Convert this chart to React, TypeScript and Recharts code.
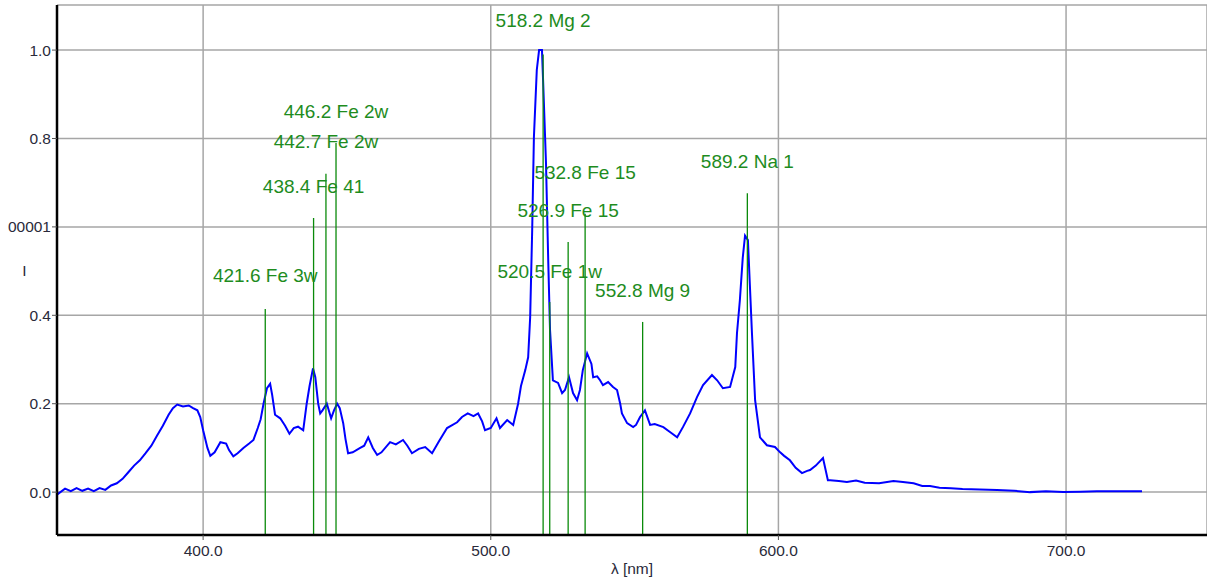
import React from "react";
import {
  ComposedChart,
  Line,
  Scatter,
  XAxis,
  YAxis,
  CartesianGrid,
  ReferenceLine,
} from "recharts";

// Spectrum (wavelength in nm, normalised intensity)
const wavelengths = [
  349.3, 352, 354, 356, 358, 360, 362, 364, 366, 368, 370, 372, 374, 376, 378, 380, 382, 384, 386, 388,
  389.5, 391, 393, 395, 396.5, 398, 399, 400, 401.5, 402.5, 404, 406, 408, 409, 410.5, 412, 414, 416,
  417.5, 419, 420, 421, 422.2, 423.3, 424, 425, 426.8, 428.5, 430, 431.5, 433, 434.8, 436, 437, 438.2,
  439, 440, 440.7, 441.5, 443, 444.5, 445.5, 446.6, 447.5, 448.7, 449.5, 450.4, 452, 454.6, 456, 457.4,
  459, 460.5, 462, 465, 467, 469.5, 471, 472.6, 475, 477.2, 479.6, 482, 484.8, 488.3, 490, 492, 494,
  495.6, 497, 498, 500, 502, 503.2, 505.7, 507.8, 509.5, 510.5, 512, 513, 513.7, 514.4, 515, 516, 516.8,
  517.8, 518.2, 519.2, 520, 520.6, 521.6, 523.4, 524.8, 525.8, 527.2, 528.6, 530, 531, 532, 533.5, 535,
  535.6, 537, 538, 539, 540.8, 542.5, 543.9, 545, 545.6, 547.4, 549.5, 550.5, 551.9, 553.6, 555.4, 557,
  560, 562.3, 564.8, 566.8, 569.3, 571.7, 573.8, 576.9, 578.7, 580.7, 583.2, 585, 585.6, 586.6, 587.6,
  588.4, 589.4, 590, 590.8, 591.9, 593.6, 596, 598.8, 600.6, 602, 604, 606, 608.2, 610, 611, 613, 615.5,
  617.2, 618, 621, 623.8, 627, 630, 635, 640, 643.3, 647, 650, 652.7, 656, 660, 664, 670, 676, 682,
  687.5, 693, 699, 705, 710.7, 718, 726.4,
];
const intensities = [
  -0.005, 0.008, 0.002, 0.009, 0.003, 0.008, 0.002, 0.009, 0.005, 0.015, 0.02, 0.03, 0.045, 0.06, 0.072,
  0.088, 0.105, 0.128, 0.15, 0.175, 0.19, 0.198, 0.194, 0.196, 0.19, 0.185, 0.17, 0.14, 0.1, 0.082, 0.09,
  0.113, 0.11, 0.095, 0.081, 0.088, 0.1, 0.11, 0.118, 0.145, 0.165, 0.2, 0.235, 0.245, 0.22, 0.175, 0.167,
  0.15, 0.132, 0.145, 0.148, 0.14, 0.2, 0.24, 0.28, 0.26, 0.2, 0.178, 0.185, 0.2, 0.167, 0.185, 0.2, 0.19,
  0.156, 0.12, 0.088, 0.09, 0.1, 0.105, 0.124, 0.1, 0.084, 0.09, 0.113, 0.108, 0.118, 0.105, 0.088, 0.098,
  0.102, 0.088, 0.115, 0.145, 0.158, 0.17, 0.178, 0.172, 0.178, 0.16, 0.14, 0.145, 0.167, 0.145, 0.163,
  0.152, 0.2, 0.24, 0.276, 0.305, 0.396, 0.593, 0.803, 0.955, 1.0, 1.0, 0.93, 0.744, 0.518, 0.367, 0.253,
  0.247, 0.224, 0.231, 0.26, 0.224, 0.208, 0.231, 0.276, 0.314, 0.29, 0.26, 0.262, 0.253, 0.242, 0.249,
  0.238, 0.231, 0.2, 0.178, 0.156, 0.147, 0.152, 0.17, 0.185, 0.152, 0.154, 0.147, 0.136, 0.124, 0.147,
  0.178, 0.215, 0.242, 0.265, 0.253, 0.235, 0.238, 0.283, 0.36, 0.434, 0.53, 0.58, 0.57, 0.48, 0.36, 0.208,
  0.124, 0.106, 0.102, 0.09, 0.082, 0.072, 0.055, 0.043, 0.048, 0.05, 0.06, 0.077, 0.027, 0.027, 0.025,
  0.023, 0.026, 0.021, 0.02, 0.025, 0.023, 0.02, 0.014, 0.014, 0.01, 0.009, 0.007, 0.006, 0.005, 0.003,
  0.0, 0.002, 0.0, 0.001, 0.002, 0.002, 0.002,
];

// Identified spectral lines
const lineWavelengths = [421.6, 438.4, 442.7, 446.2, 518.2, 520.5, 526.9, 532.8, 552.8, 589.2];
const lineHeights = [0.414, 0.62, 0.72, 0.79, 0.99, 0.43, 0.566, 0.63, 0.385, 0.676];
const lineLabels = [
  "421.6 Fe 3w",
  "438.4 Fe 41",
  "442.7 Fe 2w",
  "446.2 Fe 2w",
  "518.2 Mg 2",
  "520.5 Fe 1w",
  "526.9 Fe 15",
  "532.8 Fe 15",
  "552.8 Mg 9",
  "589.2 Na 1",
];
const labelHeights = [0.489, 0.692, 0.794, 0.862, 1.066, 0.5, 0.638, 0.722, 0.457, 0.749];

// Axes
const xDomain = [349.2, 749];
const yDomain = [-0.097, 1.102];
const xTicks = [400, 500, 600, 700];
const yTicks = [0, 0.2, 0.4, 0.6, 0.8, 1.0];
const yTickLabels = ["0.0", "0.2", "0.4", "00001", "0.8", "1.0"];

const spectrum = wavelengths.map((nm, i) => ({ nm, i: intensities[i] }));
const labelData = lineWavelengths.map((nm, k) => ({ nm, i: labelHeights[k], label: lineLabels[k] }));

const FONT = "'Liberation Sans', Arial, sans-serif";
const GREEN_LINE = "#0a8a0a";
const GREEN_TEXT = "#1e8c1e";

export default function App() {
  return (
    <div style={{ position: "absolute", left: 0, top: 0, width: 1207, height: 587, background: "#fff" }}>
      <ComposedChart
        width={1207}
        height={587}
        data={spectrum}
        margin={{ top: 5, right: 0, bottom: 0, left: 0 }}
      >
        <CartesianGrid stroke="#a6a6a6" strokeWidth={1.5} horizontal vertical />
        <XAxis
          xAxisId="top"
          orientation="top"
          type="number"
          dataKey="nm"
          domain={xDomain}
          height={0}
          tick={false}
          tickLine={false}
          axisLine={{ stroke: "#000", strokeWidth: 2.5 }}
        />
        <XAxis
          type="number"
          dataKey="nm"
          domain={xDomain}
          ticks={xTicks}
          allowDataOverflow
          height={52}
          tickSize={5}
          tickMargin={5}
          tickLine={{ stroke: "#555" }}
          tickFormatter={(v: number) => v.toFixed(1)}
          tick={{ fill: "#2a2a3a", fontSize: 15.5, fontFamily: FONT }}
          axisLine={{ stroke: "#000", strokeWidth: 2.5 }}
          label={{
            content: (props: any) => {
              const vb = props.viewBox || {};
              return (
                <text
                  x={vb.x + vb.width / 2}
                  y={vb.y + 33}
                  textAnchor="middle"
                  dominantBaseline="central"
                  fill="#2a2a3a"
                  fontSize={15.5}
                  fontFamily={FONT}
                >
                  λ [nm]
                </text>
              );
            },
          }}
        />
        <YAxis
          type="number"
          domain={yDomain}
          ticks={yTicks}
          allowDataOverflow
          width={57}
          tickSize={5}
          tickMargin={1}
          tickLine={{ stroke: "#555" }}
          tickFormatter={(v: number) => yTickLabels[yTicks.indexOf(v)] ?? v.toFixed(1)}
          tick={{ fill: "#2a2a3a", fontSize: 15.5, fontFamily: FONT }}
          axisLine={{ stroke: "#000", strokeWidth: 2.5 }}
          label={{
            content: (props: any) => {
              const vb = props.viewBox || {};
              return (
                <text
                  x={vb.x + 24.5}
                  y={vb.y + vb.height / 2}
                  textAnchor="middle"
                  dominantBaseline="central"
                  fill="#2a2a3a"
                  fontSize={15.5}
                  fontFamily={FONT}
                >
                  I
                </text>
              );
            },
          }}
        />
        <Line
          type="linear"
          dataKey="i"
          stroke="#0000ff"
          strokeWidth={2}
          dot={false}
          isAnimationActive={false}
        />
        {lineWavelengths.map((nm, k) => (
          <ReferenceLine
            key={nm}
            segment={[
              { x: nm, y: yDomain[0] },
              { x: nm, y: lineHeights[k] },
            ]}
            stroke={GREEN_LINE}
            strokeWidth={1.3}
            ifOverflow="extendDomain"
          />
        ))}
        <Scatter
          data={labelData}
          dataKey="i"
          isAnimationActive={false}
          shape={(p: any) => (
            <text
              x={p.cx}
              y={p.cy}
              textAnchor="middle"
              dominantBaseline="central"
              fill={GREEN_TEXT}
              fontSize={19}
              fontFamily={FONT}
            >
              {p.payload.label}
            </text>
          )}
        />
      </ComposedChart>
    </div>
  );
}
